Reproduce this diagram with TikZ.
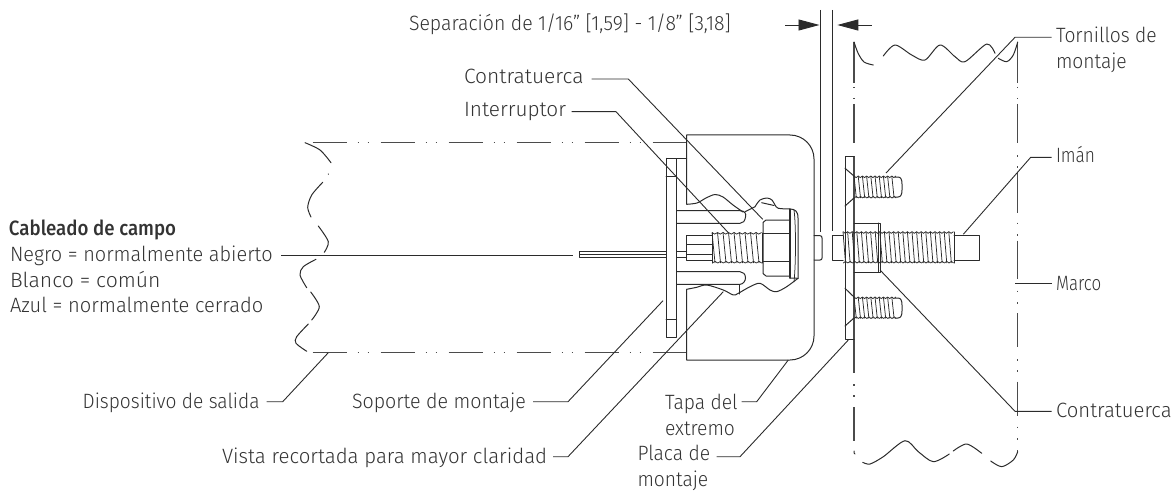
\documentclass[tikz,border=0pt]{standalone}
\usepackage{fontspec}
\usepackage{graphicx}
\setmainfont[BoldFont={Fira Sans Medium},FakeStretch=0.93]{Fira Sans Light}
\usetikzlibrary{arrows.meta}
\definecolor{ink}{HTML}{2B2B2B}
\definecolor{txt}{HTML}{333333}
\newcommand{\sx}[2]{\scalebox{#1}[1]{#2}}
\tikzset{
  lab/.style={inner sep=0pt,outer sep=0pt,anchor=base west,text=txt,font=\fontsize{20.7}{26}\selectfont},
  mlab/.style={lab,align=left},
  part/.style={draw=ink,line width=1pt,line join=round,line cap=round},
  fine/.style={draw=ink,line width=0.75pt},
  leader/.style={draw=ink,line width=0.9pt,line join=miter},
  phantomline/.style={draw=ink!85,line width=1.2pt},
  gaparrow/.style={draw=ink,line width=0.9pt,-{Triangle[length=21pt,width=11pt,fill=ink]}},
}
\newcommand{\threadrun}[5]{% x0 x1 ytop ybot pitch
  \pgfmathsetmacro{\tb}{#1+#5}
  \foreach \tx in {#1,\tb,...,#2}{
    \draw[fine] (\tx,#3) -- ({\tx+#5*0.55},#4);
    \draw[fine] (\tx,#3) -- ({\tx+#5*0.5},{#3+1.6}) -- ({\tx+#5},#3);
    \draw[fine] ({\tx+#5*0.05},#4) -- ({\tx+#5*0.55},{#4-1.6}) -- ({\tx+#5*1.05},#4);
  }
}
\begin{document}
\begin{tikzpicture}[x=1pt,y=-1pt]
\useasboundingbox (0,0) rectangle (1175,492);

% ---------- labels
\node[lab] (sep) at (409,31) {\sx{1.012}{Separación de 1/16" [1,59] - 1/8" [3,18]}};
\node[lab] (ct1) at (464,83.7) {\sx{1.09}{Contratuerca}};
\node[lab] (int) at (464,117) {\sx{1.08}{Interruptor}};
\node[lab] (cab) at (9,235.5) {\sx{0.97}{\bfseries Cableado de campo}};
\node[lab] (neg) at (10,261.7) {\sx{1.035}{Negro = normalmente abierto}};
\node[lab] (bla) at (10,287.7) {\sx{1.1}{Blanco = común}};
\node[lab] (azu) at (10,312.7) {\sx{1.045}{Azul = normalmente cerrado}};
\node[lab] (dis) at (82.7,408) {\sx{0.995}{Dispositivo de salida}};
\node[lab] (sop) at (352,408) {\sx{1.02}{Soporte de montaje}};
\node[lab] (vis) at (222,463) {\sx{1.06}{Vista recortada para mayor claridad}};
\node[mlab] (tap) at (665,435) {Tapa del\\extremo};
\node[mlab] (pla) at (637.5,486.5) {Placa de\\montaje};
\node[mlab] (tor) at (1056,69) {Tornillos de\\montaje};
\node[lab] (ima) at (1056,163) {\sx{0.9}{Imán}};
\node[lab] (mar) at (1056,290) {\sx{0.88}{Marco}};
\node[lab] (ct2) at (1056,417) {\sx{1.055}{Contratuerca}};

% ---------- exit device phantom lines
\draw[phantomline,dash pattern=on 34pt off 11pt on 1.5pt off 8.5pt on 1.5pt off 11.5pt] (312.7,142.7) -- (686.7,142.7);
\draw[phantomline,dash pattern=on 34pt off 11pt on 1.5pt off 8.5pt on 1.5pt off 11.5pt] (312.7,352.7) -- (686.7,352.7);
% break lines, exit device
\draw[part] plot[smooth] coordinates {(305,142.7) (320,150) (331,162.7)};
\draw[part] (328.3,174) -- (328.6,174.3);
\draw[part] plot[smooth] coordinates {(322.7,182.3) (311.7,195) (307.7,207.3) (311,217)};
\draw[part] plot[smooth] coordinates {(318.3,226) (328.3,241.7) (324.3,252.3)};
\draw[part] plot[smooth] coordinates {(316,259.3) (303.3,266.7) (300,275) (306.7,287.7)};
\draw[part] plot[smooth] coordinates {(310.7,292) (319.3,306.7) (311.7,320)};
\draw[part] plot[smooth] coordinates {(308.3,324) (296.7,336.7) (296,343.3) (306.7,351.3)};

% ---------- end cap
\draw[part] (686.7,204) -- (686.7,135) -- (790,135) arc[start angle=-90,end angle=0,radius=24] -- (814,336) arc[start angle=0,end angle=90,radius=24] -- (686.7,360) -- (686.7,289.3);
% mounting bracket
\draw[part] (666,158.3) rectangle (676.7,337);
\draw[part] (666,176.7) -- (676.7,176.7);
\draw[part] (666,319.3) -- (676.7,319.3);
\draw[part] (676.7,158.3) -- (686.7,158.3);
\draw[part] (666,158.3) -- (666,337);
% slots
\draw[part] (676.7,210.7) -- (740,210.7) .. controls (745,210.7) and (746.5,214) .. (745.5,217) .. controls (745,221) and (743,223.3) .. (740,223.3) -- (676.7,223.3);
\draw[part] (676.7,271.7) -- (740,271.7) .. controls (743,271.7) and (745.5,274) .. (745.5,278) .. controls (745.5,281) and (743,284.3) .. (740,284.3) -- (676.7,284.3);
% cut-away edge
\draw[part] plot[smooth] coordinates {(686.7,204.3) (697,203) (706,198) (715,194.5) (723,197) (733,205) (743,212)};
\draw[part] (745,211.7) -- (755,206.7);
\draw[part] plot[smooth] coordinates {(755,206.7) (760,200) (767,198) (772,200) (775,205) (778.3,208.3) (789.3,209)};
\draw[part] (761.7,202.7) -- (774,205.5);
\draw[part] plot[smooth] coordinates {(798,278.3) (786.7,286.7) (776.7,291.7) (770,290) (760,283.3) (750,286.7) (738.3,293.3) (733.3,295) (723.3,290) (706.7,285) (696.7,287.3) (686.7,289.3)};
\draw[part] (739,285) -- (739,294);
% dome washer
\draw[part] (789.3,209) .. controls (795,209) and (798,211) .. (798,218) -- (798,278.3);
\draw[part,line width=1.5pt] (790,209) -- (790,278);
\draw[fine] (794,210) .. controls (796,225) and (796,262) .. (794,282);
\draw[part] (790,278) -- (798,278.3);
% lock nut
\draw[part] (789.3,220) -- (766,220) -- (763,222.5) -- (763,273.5) -- (766,276) -- (789.3,276);
\draw[part] (763,233.3) -- (789.3,233.3);
\draw[part] (763,261.7) -- (789.3,261.7);
% switch
\draw[part] (711.7,235.7) -- (686.7,235.7) -- (686.7,260) -- (711.7,260);
\draw[part] (686.7,244) -- (711.7,244);
\draw[part] (686.7,254) -- (711.7,254);
\threadrun{712}{757}{232.5}{263}{5.5}
\draw[part] (712,233) -- (712,263);
\draw[part] (762,233) -- (762,263);
% wire
\draw[part] (666,251) -- (579,251) -- (579,257.3) -- (666,257.3);
\draw[fine] (579,254) -- (666,254);
\draw[part] (676.7,251) -- (686.7,251);
\draw[part] (676.7,257.3) -- (686.7,257.3);
% gap piece on the switch
\draw[part] (814,235.7) -- (820,235.7) .. controls (821.5,235.7) and (822,236.5) .. (822,238) -- (822,258) .. controls (822,259.3) and (821.5,260) .. (820,260) -- (814,260);

% ---------- gap dimension
\draw[leader] (820.7,10) -- (820.7,232);
\draw[leader] (832.7,10) -- (832.7,230.7);
\coordinate (gl) at (785,25); \coordinate (gli) at (819.5,25);
\coordinate (gr) at (871.7,25); \coordinate (gri) at (837.3,25);
\draw[gaparrow] (gl) -- (gli);
\draw[gaparrow] (gr) -- (gri);

% ---------- frame phantom lines
\foreach \a/\b in {42/83,104/143,172.7/213,240.7/279,313.3/347.3,381.7/416,450/452}
  \draw[phantomline] (1017.7,\a) -- (1017.7,\b);
\foreach \a in {87,98,155,166,222.7,234,290.7,302.3,359.3,370,426.7,438.3}
  \draw[phantomline] (1017.7,\a) -- (1017.7,{\a+1.5});
\foreach \a/\b in {42/83,104/143,156/372.7,407/441}
  \draw[phantomline] (854,\a) -- (854,\b);
\foreach \a in {87,98,384,395}
  \draw[phantomline] (854,\a) -- (854,{\a+1.5});
\draw[part] (854,451) -- (854,453) -- (855,454);
% break lines, frame
\draw[part] plot[smooth] coordinates {(854,42) (858,53) (864,62) (873.3,65)};
\draw[part] plot[smooth] coordinates {(883.3,56) (895,45) (911.7,55) (925,60) (940,45) (955,56.7) (965,61.7) (986.7,44) (995,53.3)};
\draw[part] plot[smooth] coordinates {(998.3,58.3) (1006.7,61.7) (1013.3,55) (1017.7,42)};
\draw[part] plot[smooth] coordinates {(862.7,462.3) (870,464) (883.3,456.7) (905,440.7) (918.3,451.7) (933.3,461.7) (949.3,454)};
\draw[part] plot[smooth] coordinates {(953.3,451) (966.7,444) (981.7,453.3)};
\draw[part] plot[smooth] coordinates {(990.7,461) (1001.7,466.7) (1013.3,460) (1017.7,451.7)};

% ---------- mounting plate
\draw[part] (854,156) -- (845,156) -- (845,339) -- (854,339);
\draw[part] (845,168.3) -- (854,176);
\draw[part] (854,198) -- (845,206);
\draw[part] (845,288.3) -- (854,297);
\draw[part] (854,318) -- (845,326);
% screws
\threadrun{854}{892}{176}{198}{4.2}
\draw[part] (895,177) -- (898,177) .. controls (901,177) and (902,180) .. (902,184) -- (902,190) .. controls (902,194) and (901,197) .. (898,197) -- (895,197);
\threadrun{854}{892}{297}{318.5}{4.2}
\draw[part] (895,298) -- (898,298) .. controls (901,298) and (902,301) .. (902,305) -- (902,311) .. controls (902,315) and (901,318) .. (898,318) -- (895,318);
% magnet
\draw[part] (843,235.3) -- (832.7,235.3) -- (832.7,260) -- (843,260);
\threadrun{843}{950}{231.7}{263}{4.6}
\draw[part] (954,235.3) -- (979,235.3) -- (979,260) -- (954,260);
\draw[part] (954,232) -- (954,263);
\draw[part] (854,223) -- (880,223) -- (880,272) -- (854,272);
\draw[part] (878.5,223) -- (878.5,272);

% ---------- leaders
\coordinate (a1) at (591.7,79);   \coordinate (a2) at (628.3,79);   \coordinate (a3) at (762.7,219.3);
\draw[leader] (a1) -- (a2) -- (a3);
\coordinate (b1) at (571.7,111.7);\coordinate (b2) at (616,111.7);  \coordinate (b3) at (728.3,232.7);
\draw[leader] (b1) -- (b2) -- (b3);
\coordinate (c1) at (281,255);    \coordinate (c2) at (572.7,255);
\draw[leader] (c1) -- (c2);
\coordinate (d1) at (266.7,401.7);\coordinate (d2) at (282.7,401.7);\coordinate (d3) at (328.3,352.7);
\draw[leader] (d1) -- (d2) -- (d3);
\coordinate (e1) at (533,401.7);  \coordinate (e2) at (568,401.7);  \coordinate (e3) at (663,300.7);
\draw[leader] (e1) -- (e2) -- (e3);
\coordinate (f1) at (553,456.7);  \coordinate (f2) at (568,456.7);  \coordinate (f3) at (723.3,291.7);
\draw[leader] (f1) -- (f2) -- (f3);
\coordinate (g1) at (741.7,401.7);\coordinate (g2) at (756.7,401.7);\coordinate (g3) at (788.3,360);
\draw[leader] (g1) -- (g2) -- (g3);
\coordinate (h1) at (716.7,456.7);\coordinate (h2) at (740,456.7);  \coordinate (h3) at (848.3,340);
\draw[leader] (h1) -- (h2) -- (h3);
\coordinate (i1) at (1051.7,37.3);\coordinate (i2) at (1015,37.3);  \coordinate (i3) at (886,173);
\draw[leader] (i1) -- (i2) -- (i3);
\coordinate (j1) at (1051.7,157.3);\coordinate (j2) at (1030.7,157.3);\coordinate (j3) at (963.3,234.3);
\draw[leader] (j1) -- (j2) -- (j3);
\coordinate (k1) at (1051.7,283.3);\coordinate (k2) at (1015,283.3);
\draw[leader] (k1) -- (k2);
\coordinate (l1) at (1051.7,411.3);\coordinate (l2) at (1015,411.3);\coordinate (l3) at (880,270);
\draw[leader] (l1) -- (l2) -- (l3);
\end{tikzpicture}
\end{document}
